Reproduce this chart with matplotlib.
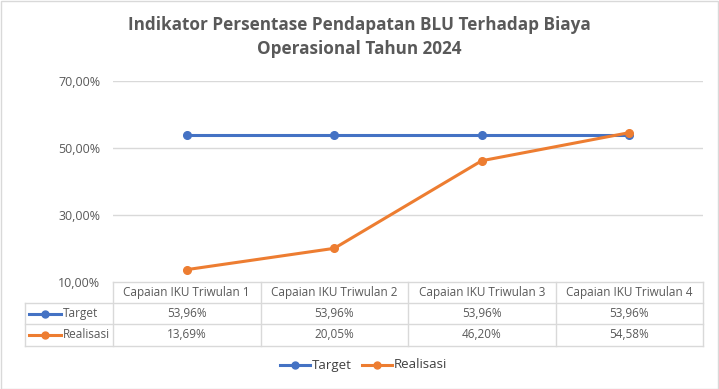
import matplotlib
matplotlib.use("Agg")
import matplotlib.pyplot as plt
from matplotlib.transforms import blended_transform_factory
from matplotlib.lines import Line2D
from matplotlib.patches import Rectangle

categories = ["Capaian IKU Triwulan 1", "Capaian IKU Triwulan 2",
              "Capaian IKU Triwulan 3", "Capaian IKU Triwulan 4"]
target = [53.96, 53.96, 53.96, 53.96]
realisasi = [13.69, 20.05, 46.20, 54.58]
series_names = ["Target", "Realisasi"]
yticks = [10, 30, 50, 70]
title = "Indikator Persentase Pendapatan BLU Terhadap Biaya\nOperasional Tahun 2024"

BLUE = "#4472C4"
ORANGE = "#ED7D31"
TXT = "#595959"
GRID = "#D9D9D9"
FONT = ["Open Sans", "DejaVu Sans"]

W, H = 719, 389
fig = plt.figure(figsize=(W / 100, H / 100), dpi=100)
plt.rcParams['font.family'] = FONT
FT = fig.transFigure

# figure border
fig.patches.append(Rectangle((0.5 / W, 0.5 / H), (W - 1.5) / W, (H - 1.5) / H,
                             transform=FT, fill=False, edgecolor="#D9D9D9", lw=1))

def fy(py):
    return 1 - py / H

def fx(px):
    return px / W

def fline(xs, ys, **kw):
    fig.lines.append(Line2D(xs, ys, transform=FT, **kw))

left, right = 113, 703
top, bottom = 81, 282
ax = fig.add_axes([fx(left), fy(bottom), fx(right) - fx(left), fy(top) - fy(bottom)])
ax.set_xlim(-0.5, 3.5)
ax.set_ylim(10, 70)
for s in ax.spines.values():
    s.set_visible(False)
ax.set_xticks([])
ax.set_yticks(yticks)
ax.set_yticklabels([f"{v:.2f}%".replace(".", ",") for v in yticks],
                   fontsize=9, color=TXT, family=FONT)
ax.tick_params(axis="y", length=0, pad=9)
for v in yticks[1:]:
    ax.axhline(v, color=GRID, lw=1, zorder=0)

x = list(range(len(categories)))
ax.plot(x, target, color=BLUE, lw=2.2, marker="o", ms=5.5, zorder=3)
ax.plot(x, realisasi, color=ORANGE, lw=2.2, marker="o", ms=5.5, zorder=4)
ax.patch.set_visible(False)

fig.text(0.5, fy(37), title, ha="center", va="center", fontsize=12.3,
         fontweight="bold", color=TXT, linespacing=1.5, family=FONT)

# data table
tr = blended_transform_factory(ax.transData, FT)
row_y = [282, 303, 324, 346]
tl = 25
lc = "#D9D9D9"
fline([fx(left), fx(right)], [fy(row_y[0])] * 2, color=lc, lw=1)
for ry in row_y[1:]:
    fline([fx(tl), fx(right)], [fy(ry)] * 2, color=lc, lw=1)
fline([fx(tl)] * 2, [fy(row_y[1]), fy(row_y[3])], color=lc, lw=1)
for i in range(len(categories) + 1):
    ax.add_line(Line2D([i - 0.5] * 2, [fy(row_y[0]), fy(row_y[3])], color=lc, lw=1,
                       transform=tr, clip_on=False))

def fmt(v):
    return f"{v:.2f}%".replace(".", ",")

for i, c in enumerate(categories):
    ax.text(i, fy((row_y[0] + row_y[1]) / 2), c, transform=tr, ha="center", va="center",
            fontsize=8.5, color=TXT, family=FONT)
    ax.text(i, fy((row_y[1] + row_y[2]) / 2), fmt(target[i]), transform=tr, ha="center",
            va="center", fontsize=8.5, color=TXT, family=FONT)
    ax.text(i, fy((row_y[2] + row_y[3]) / 2), fmt(realisasi[i]), transform=tr, ha="center",
            va="center", fontsize=8.5, color=TXT, family=FONT)

# row label keys
for name, col, (y0, y1) in zip(series_names, [BLUE, ORANGE],
                               [(row_y[1], row_y[2]), (row_y[2], row_y[3])]):
    yc = fy((y0 + y1) / 2)
    fline([fx(29), fx(61)], [yc, yc], color=col, lw=2.2)
    fline([fx(45)], [yc], color=col, marker="o", ms=5)
    fig.text(fx(63), yc, name, ha="left", va="center", fontsize=8.5, color=TXT, family=FONT)

# bottom legend
ly = fy(365)
for name, col, x0 in zip(series_names, [BLUE, ORANGE], [280, 362]):
    fline([fx(x0), fx(x0 + 30)], [ly, ly], color=col, lw=2.2)
    fline([fx(x0 + 15)], [ly], color=col, marker="o", ms=5)
    fig.text(fx(x0 + 32), ly, name, ha="left", va="center", fontsize=9.5, color="#404040",
             family=FONT)

fig.savefig("out.png", dpi=100)
